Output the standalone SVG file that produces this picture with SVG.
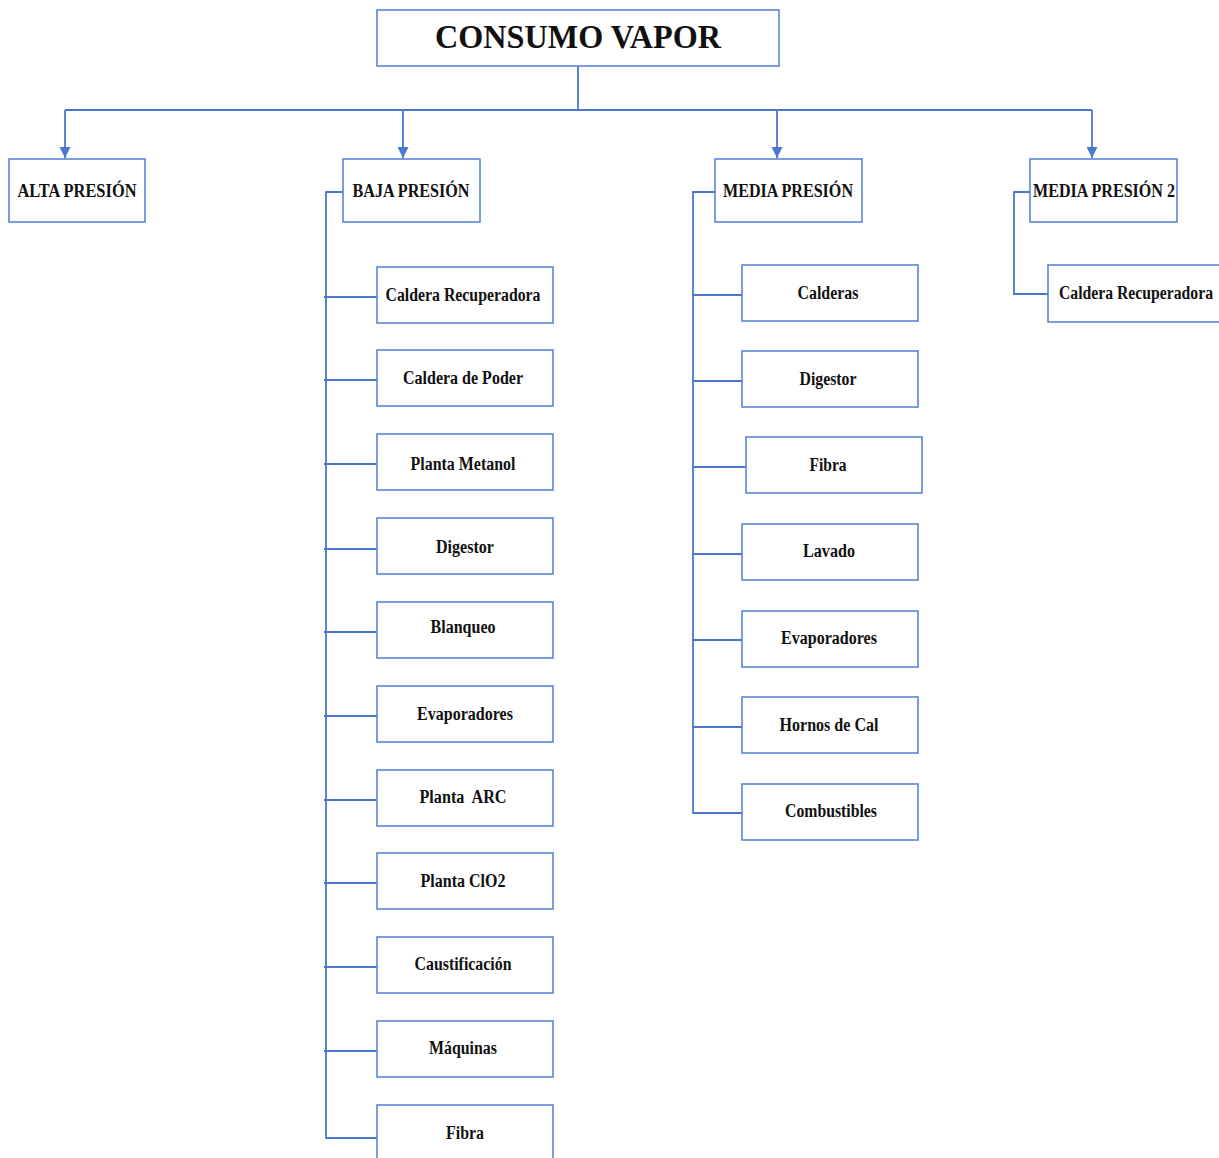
<svg xmlns="http://www.w3.org/2000/svg" width="1219" height="1158" viewBox="0 0 1219 1158">
<style>
.box{fill:#fff;stroke:#5B86D6;stroke-width:1.6}
.ln{fill:none;stroke:#4A78CF;stroke-width:1.8}
text{font-family:"Liberation Serif","Times New Roman",serif;font-size:18px;fill:#111;text-anchor:middle;font-weight:bold}
.title{font-size:34px}
</style>
<defs>
<marker id="arr" viewBox="0 0 10 10" refX="10" refY="5" markerWidth="11" markerHeight="11" markerUnits="userSpaceOnUse" orient="auto">
<path d="M0,0 L10,5 L0,10 z" fill="#4A78CF"/>
</marker>
</defs>
<rect width="1219" height="1158" fill="#fff"/>
<g id="connectors">
<path class="ln" d="M578,66 V110 M65,110 H1092"/>
<path class="ln" d="M65,110 V158" marker-end="url(#arr)"/>
<path class="ln" d="M403,110 V158" marker-end="url(#arr)"/>
<path class="ln" d="M777,110 V158" marker-end="url(#arr)"/>
<path class="ln" d="M1092,110 V158" marker-end="url(#arr)"/>
<path class="ln" d="M343,192 H326 V1138 H377 M324,297 H377 M324,380 H377 M324,464 H377 M324,549 H377 M324,632 H377 M324,716 H377 M324,800 H377 M324,883 H377 M324,967 H377 M324,1051 H377"/>
<path class="ln" d="M715,192 H693 V813 H742 M693,295 H742 M693,381 H742 M693,467 H746 M693,554 H742 M693,640 H742 M693,727 H742"/>
<path class="ln" d="M1030,192 H1014 V294 H1048"/>
</g>
<g id="n-consumo"><rect class="box" x="377" y="10" width="402" height="56"/><text class="title" x="578" y="48" textLength="286" lengthAdjust="spacingAndGlyphs">CONSUMO VAPOR</text></g>
<g id="n-alta"><rect class="box" x="9" y="159" width="136" height="63"/><text x="77" y="197" textLength="119" lengthAdjust="spacingAndGlyphs">ALTA PRESIÓN</text></g>
<g id="n-baja"><rect class="box" x="343" y="159" width="137" height="63"/><text x="411" y="197" textLength="117" lengthAdjust="spacingAndGlyphs">BAJA PRESIÓN</text></g>
<g id="n-media"><rect class="box" x="715" y="159" width="147" height="63"/><text x="788" y="197" textLength="130" lengthAdjust="spacingAndGlyphs">MEDIA PRESIÓN</text></g>
<g id="n-media2"><rect class="box" x="1030" y="159" width="147" height="63"/><text x="1104" y="197" textLength="142" lengthAdjust="spacingAndGlyphs">MEDIA PRESIÓN 2</text></g>
<g id="b1"><rect class="box" x="377" y="267" width="176" height="56"/><text x="463" y="301" textLength="155" lengthAdjust="spacingAndGlyphs">Caldera Recuperadora</text></g>
<g id="b2"><rect class="box" x="377" y="350" width="176" height="56"/><text x="463" y="384" textLength="120" lengthAdjust="spacingAndGlyphs">Caldera de Poder</text></g>
<g id="b3"><rect class="box" x="377" y="434" width="176" height="56"/><text x="463" y="470" textLength="105" lengthAdjust="spacingAndGlyphs">Planta Metanol</text></g>
<g id="b4"><rect class="box" x="377" y="518" width="176" height="56"/><text x="465" y="553" textLength="58" lengthAdjust="spacingAndGlyphs">Digestor</text></g>
<g id="b5"><rect class="box" x="377" y="602" width="176" height="56"/><text x="463" y="633" textLength="65" lengthAdjust="spacingAndGlyphs">Blanqueo</text></g>
<g id="b6"><rect class="box" x="377" y="686" width="176" height="56"/><text x="465" y="720" textLength="96" lengthAdjust="spacingAndGlyphs">Evaporadores</text></g>
<g id="b7"><rect class="box" x="377" y="770" width="176" height="56"/><text x="463" y="803" textLength="87" lengthAdjust="spacingAndGlyphs" xml:space="preserve">Planta  ARC</text></g>
<g id="b8"><rect class="box" x="377" y="853" width="176" height="56"/><text x="463" y="887" textLength="85" lengthAdjust="spacingAndGlyphs">Planta ClO2</text></g>
<g id="b9"><rect class="box" x="377" y="937" width="176" height="56"/><text x="463" y="970" textLength="97" lengthAdjust="spacingAndGlyphs">Caustificación</text></g>
<g id="b10"><rect class="box" x="377" y="1021" width="176" height="56"/><text x="463" y="1054" textLength="68" lengthAdjust="spacingAndGlyphs">Máquinas</text></g>
<g id="b11"><rect class="box" x="377" y="1105" width="176" height="60"/><text x="465" y="1139" textLength="38" lengthAdjust="spacingAndGlyphs">Fibra</text></g>
<g id="m1"><rect class="box" x="742" y="265" width="176" height="56"/><text x="828" y="299" textLength="61" lengthAdjust="spacingAndGlyphs">Calderas</text></g>
<g id="m2"><rect class="box" x="742" y="351" width="176" height="56"/><text x="828" y="385" textLength="57" lengthAdjust="spacingAndGlyphs">Digestor</text></g>
<g id="m3"><rect class="box" x="746" y="437" width="176" height="56"/><text x="828" y="471" textLength="37" lengthAdjust="spacingAndGlyphs">Fibra</text></g>
<g id="m4"><rect class="box" x="742" y="524" width="176" height="56"/><text x="829" y="557" textLength="52" lengthAdjust="spacingAndGlyphs">Lavado</text></g>
<g id="m5"><rect class="box" x="742" y="611" width="176" height="56"/><text x="829" y="644" textLength="96" lengthAdjust="spacingAndGlyphs">Evaporadores</text></g>
<g id="m6"><rect class="box" x="742" y="697" width="176" height="56"/><text x="829" y="731" textLength="99" lengthAdjust="spacingAndGlyphs">Hornos de Cal</text></g>
<g id="m7"><rect class="box" x="742" y="784" width="176" height="56"/><text x="831" y="817" textLength="92" lengthAdjust="spacingAndGlyphs">Combustibles</text></g>
<g id="r1"><rect class="box" x="1048" y="265" width="180" height="57"/><text x="1136" y="299" textLength="154" lengthAdjust="spacingAndGlyphs">Caldera Recuperadora</text></g>
</svg>
